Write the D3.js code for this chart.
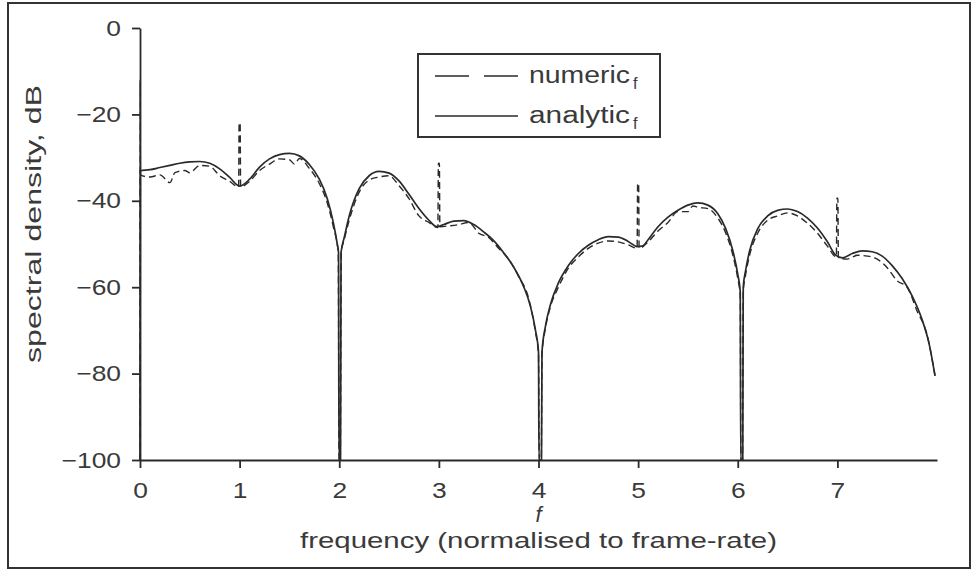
<!DOCTYPE html>
<html><head><meta charset="utf-8">
<script src="https://cdn.jsdelivr.net/npm/d3@7"></script>
<style>
body{margin:0;background:#fff}
svg{display:block}
text{font-family:"Liberation Sans",Arial,sans-serif;fill:#3a3a3a}
</style>
</head><body><svg id="c" width="972" height="571"></svg>
<script>
const xTicks=[0,1,2,3,4,5,6,7];
const yTicks=[0,-20,-40,-60,-80,-100];
const seriesNames=["numeric","analytic"];
// analytic spectral density [f, dB]
const analytic=[[0,-100],[0.003,-33],[0.1,-32.8],[0.2,-32.3],[0.3,-31.8],[0.4,-31.3],[0.5,-31],[0.6,-30.9],[0.7,-31.3],[0.8,-32.6],[0.9,-34.6],[1.0,-36.6],[1.1,-35],[1.2,-32.2],[1.3,-30.3],[1.4,-29.3],[1.5,-29],[1.6,-29.6],[1.7,-31.6],[1.8,-35],[1.88,-39.5],[1.94,-45],[1.98,-50],[1.993,-52],[1.997,-100],[2.013,-100],[2.018,-52],[2.05,-48.5],[2.1,-43.5],[2.2,-37.2],[2.3,-34.2],[2.4,-33.2],[2.5,-33.6],[2.6,-35.4],[2.7,-38.5],[2.8,-41.8],[2.9,-44.5],[2.98,-46],[3.05,-45.5],[3.15,-44.7],[3.25,-44.6],[3.35,-45.5],[3.45,-47.2],[3.55,-49.2],[3.65,-52],[3.75,-55.3],[3.85,-59.8],[3.92,-64.5],[3.97,-70],[4.0,-75],[4.005,-100],[4.03,-100],[4.035,-75],[4.07,-69],[4.12,-64],[4.2,-59],[4.3,-55],[4.4,-52.2],[4.5,-50.3],[4.6,-49],[4.7,-48.3],[4.8,-48.4],[4.9,-49.4],[4.99,-50.6],[5.05,-50.4],[5.1,-49],[5.2,-46],[5.3,-43.8],[5.4,-42.2],[5.5,-41],[5.6,-40.5],[5.7,-41],[5.8,-43],[5.88,-46.5],[5.95,-51.5],[6.0,-57],[6.025,-61],[6.03,-100],[6.05,-100],[6.055,-60],[6.08,-56],[6.12,-51.5],[6.2,-46.5],[6.3,-43.5],[6.4,-42.2],[6.5,-41.9],[6.6,-42.5],[6.7,-44],[6.8,-46.3],[6.9,-49.5],[6.98,-52.5],[7.05,-53.2],[7.15,-52.2],[7.25,-51.6],[7.35,-51.8],[7.45,-52.8],[7.55,-55],[7.65,-58],[7.75,-62],[7.85,-67.5],[7.92,-73],[7.98,-80.5]];
// numeric spectral density [f, dB]
const numeric=[[0,-100],[0.001,-12],[0.004,-34],[0.1,-34.5],[0.2,-34],[0.3,-35.8],[0.35,-33.5],[0.45,-33],[0.5,-33.5],[0.6,-31.8],[0.7,-32],[0.8,-34.2],[0.9,-35.5],[0.99,-36.8],[0.995,-22],[1.005,-22],[1.01,-36.8],[1.1,-35.5],[1.2,-33],[1.3,-31.5],[1.4,-30.3],[1.5,-30.5],[1.55,-31.5],[1.6,-30.2],[1.7,-32.5],[1.8,-36],[1.88,-40.5],[1.94,-46],[1.99,-52],[1.998,-100],[2.01,-100],[2.02,-52],[2.05,-49],[2.1,-44.5],[2.2,-38],[2.3,-35.2],[2.4,-34.5],[2.5,-34.2],[2.6,-36.5],[2.7,-39.5],[2.8,-43.5],[2.9,-45],[2.99,-46.2],[2.995,-31.3],[3.005,-31.3],[3.01,-46],[3.1,-45.8],[3.2,-45.5],[3.3,-45],[3.4,-47.5],[3.5,-48.5],[3.6,-51],[3.7,-53.5],[3.8,-57.5],[3.9,-62.5],[3.97,-70.5],[4.0,-75.5],[4.008,-100],[4.028,-100],[4.035,-75.5],[4.07,-69.5],[4.12,-64.5],[4.2,-60],[4.3,-55.6],[4.4,-53],[4.5,-51],[4.6,-49.8],[4.7,-49.3],[4.8,-49.5],[4.9,-50.2],[4.99,-51],[4.995,-36],[5.005,-36],[5.01,-51],[5.1,-49.5],[5.2,-47],[5.3,-45],[5.4,-42.5],[5.5,-42.5],[5.55,-41.2],[5.6,-41.5],[5.7,-41.8],[5.8,-44],[5.88,-47.5],[5.95,-52.5],[6.0,-58],[6.025,-62],[6.032,-100],[6.048,-100],[6.055,-61],[6.08,-57],[6.12,-52.5],[6.2,-47.5],[6.3,-44.5],[6.4,-43.5],[6.5,-42.8],[6.6,-43.5],[6.7,-45.2],[6.8,-47.5],[6.9,-50.5],[6.99,-53],[6.995,-39.4],[7.005,-39.4],[7.01,-53.2],[7.1,-53.5],[7.2,-52.6],[7.3,-52.8],[7.4,-53.5],[7.5,-55.5],[7.6,-58.5],[7.7,-60],[7.8,-65.5],[7.9,-71],[7.98,-80.5]];

const svg=d3.select("#c");
const ink="#2a2a2a";
svg.append("rect").attr("x",8).attr("y",3).attr("width",962).attr("height",565)
  .attr("fill","none").attr("stroke","#333").attr("stroke-width",2);

const x=d3.scaleLinear().domain([0,8]).range([140,937]);
const y=d3.scaleLinear().domain([-100,0]).range([460,28]);

function stretch(sel,f){
  sel.each(function(){const w=this.getComputedTextLength();
    d3.select(this).attr("textLength",w*f).attr("lengthAdjust","spacingAndGlyphs");});
}

const gy=svg.append("g").attr("transform",`translate(${x(0)},0)`)
  .call(d3.axisLeft(y).tickValues(yTicks).tickSize(8).tickSizeOuter(0).tickPadding(11)
    .tickFormat(d=>d<0?"\u2212"+Math.abs(d):String(d)));
const gx=svg.append("g").attr("transform",`translate(0,${y(-100)})`)
  .call(d3.axisBottom(x).tickValues(xTicks).tickSize(8).tickSizeOuter(0).tickPadding(14));
[gx,gy].forEach(g=>{
  g.selectAll("path,line").attr("stroke",ink).attr("stroke-width",1.8);
  g.selectAll("text").attr("font-size",22).attr("font-family","Liberation Sans, Arial, sans-serif").attr("fill","#3a3a3a");
  stretch(g.selectAll("text"),1.2);
});

const line=d3.line().x(d=>x(d[0])).y(d=>y(d[1])).curve(d3.curveMonotoneX);
svg.append("path").datum(analytic).attr("d",line).attr("fill","none")
  .attr("stroke",ink).attr("stroke-width",1.7);
svg.append("path").datum(numeric).attr("d",line).attr("fill","none")
  .attr("stroke",ink).attr("stroke-width",1.4).attr("stroke-dasharray","7,4");

// legend
const lg=svg.append("g");
lg.append("rect").attr("x",418).attr("y",54).attr("width",242).attr("height",83)
  .attr("fill","#fff").attr("stroke","#333").attr("stroke-width",2);
const legY=[76,116];
seriesNames.forEach((n,i)=>{
  lg.append("line").attr("x1",435).attr("x2",518).attr("y1",legY[i]).attr("y2",legY[i])
    .attr("stroke",ink).attr("stroke-width",1.7)
    .attr("stroke-dasharray",i===0?"34,15":null);
  lg.append("text").attr("x",529).attr("y",legY[i]+7).attr("font-size",23).text(n)
    .attr("textLength",101).attr("lengthAdjust","spacingAndGlyphs");
  lg.append("text").attr("x",633).attr("y",legY[i]+13).attr("font-size",16).text("f");
});

// axis titles
svg.append("text").attr("x",x(4)).attr("y",522).attr("text-anchor","middle")
  .attr("font-family","Liberation Serif, serif").attr("font-style","italic").attr("font-size",22).text("f");
svg.append("text").attr("x",538.5).attr("y",548).attr("text-anchor","middle").attr("font-size",22)
  .attr("textLength",477).attr("lengthAdjust","spacingAndGlyphs")
  .text("frequency (normalised to frame-rate)");
svg.append("text").attr("transform","translate(41,224) rotate(-90)").attr("text-anchor","middle")
  .attr("font-size",22).attr("textLength",278).attr("lengthAdjust","spacingAndGlyphs")
  .text("spectral density, dB");
</script></body></html>
